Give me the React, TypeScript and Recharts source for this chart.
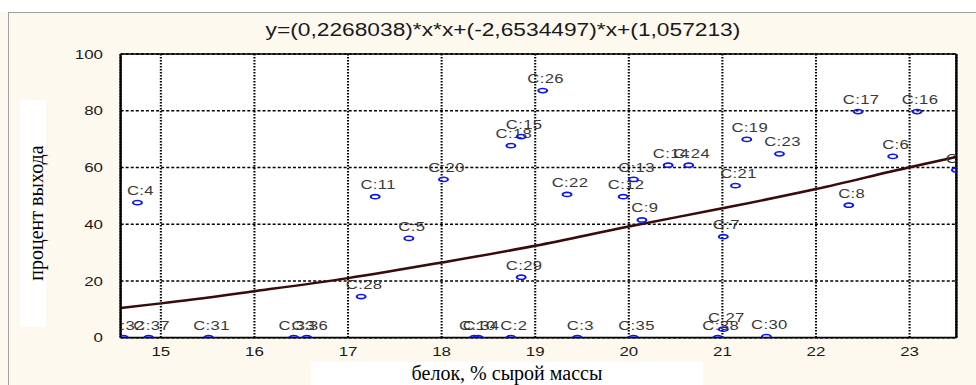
import {
  CartesianGrid,
  ComposedChart,
  Line,
  Scatter,
  XAxis,
  YAxis,
} from "recharts";

// case labels and their coordinates (protein %, yield %)
const pointNames = [
  "C:4", "C:26", "C:15", "C:18", "C:20", "C:11", "C:5", "C:22", "C:12", "C:13",
  "C:9", "C:14", "C:24", "C:17", "C:16", "C:19", "C:23", "C:6", "C:21", "C:8",
  "C:7", "C:1", "C:27", "C:38", "C:30", "C:28", "C:29", "C:32", "C:37", "C:31",
  "C:33", "C:36", "C:10", "C:34", "C:2", "C:3", "C:35",
];
const pointX = [
  14.75, 19.08, 18.85, 18.74, 18.02, 17.29, 17.65, 19.34, 19.94, 20.05,
  20.14, 20.42, 20.64, 22.45, 23.08, 21.26, 21.61, 22.82, 21.14, 22.35,
  21.01, 23.5, 21.01, 20.95, 21.47, 17.14, 18.85, 14.6, 14.87, 15.51,
  16.42, 16.56, 18.35, 18.39, 18.74, 19.45, 20.05,
];
const pointY = [
  47.6, 87.1, 70.9, 67.7, 55.8, 49.7, 35.0, 50.5, 49.7, 55.8,
  41.5, 60.8, 60.8, 79.7, 79.7, 69.9, 64.8, 63.9, 53.6, 46.7,
  35.6, 59.1, 3.0, 0, 0.4, 14.5, 21.3, 0, 0, 0,
  0, 0, 0, 0, 0, 0, 0,
];

// fitted curve
const fitX = [14.57, 15, 16, 17, 18, 19, 20, 21, 22, 23, 23.5];
const fitY = [10.5, 12.1, 16.4, 21.0, 26.5, 32.4, 39.2, 45.6, 52.4, 60.1, 63.7];

const xTicks = [15, 16, 17, 18, 19, 20, 21, 22, 23];
const yTicks = [0, 20, 40, 60, 80, 100];
const xMinor = [
  14.75, 15, 15.25, 15.5, 15.75, 16, 16.25, 16.5, 16.75, 17, 17.25, 17.5, 17.75,
  18, 18.25, 18.5, 18.75, 19, 19.25, 19.5, 19.75, 20, 20.25, 20.5, 20.75, 21,
  21.25, 21.5, 21.75, 22, 22.25, 22.5, 22.75, 23, 23.25,
];
const yMinor = [
  4, 8, 12, 16, 20, 24, 28, 32, 36, 40, 44, 48, 52, 56, 60, 64, 68, 72, 76, 80,
  84, 88, 92, 96,
];

const X_DOMAIN: [number, number] = [14.57, 23.5];
const Y_DOMAIN: [number, number] = [0, 100];

const points = pointNames.map((name, i) => ({ name, x: pointX[i], y: pointY[i] }));
const fit = fitX.map((x, i) => ({ x, y: fitY[i] }));

const SANS = "'Liberation Sans', Arial, sans-serif";
const SERIF = "'Liberation Serif', 'Times New Roman', serif";
const STRETCH = 976 / 751;

const tickStyle = { fill: "#1a1a1a", fontSize: 13, fontFamily: SANS };

function Marker(props: any) {
  const { cx, cy, payload } = props;
  return (
    <g>
      <ellipse cx={cx} cy={cy} rx={3.4} ry={2.1} fill="none" stroke="#0b16f2" strokeWidth={1.6} />
      <text
        x={cx + 2.3}
        y={cy - 7.5}
        textAnchor="middle"
        fontSize={12.8}
        letterSpacing={0.3}
        fill="#383838"
        fontFamily={SANS}
      >
        {payload.name}
      </text>
    </g>
  );
}

export default function App() {
  return (
    <div
      style={{
        position: "absolute",
        left: 0,
        top: 0,
        width: 976,
        height: 385,
        background: "#fdf9ef",
        overflow: "hidden",
      }}
    >
      <div style={{ position: "absolute", left: 0, top: 0, width: 976, height: 12, background: "#fff" }} />
      <div style={{ position: "absolute", left: 8, top: 12, width: 968, height: 1, background: "#a0a0a0" }} />
      <div style={{ position: "absolute", left: 8, top: 12, width: 1, height: 373, background: "#a0a0a0" }} />

      <div
        style={{
          position: "absolute",
          left: 0,
          top: 0,
          width: 751,
          height: 385,
          transform: `scaleX(${STRETCH})`,
          transformOrigin: "0 0",
        }}
      >
        <div
          style={{
            position: "absolute",
            left: 137,
            top: 18,
            width: 500,
            height: 24,
            lineHeight: "24px",
            textAlign: "center",
            fontFamily: SANS,
            fontSize: 17.5,
            color: "#1a1a1a",
          }}
        >
          y=(0,2268038)*x*x+(-2,6534497)*x+(1,057213)
        </div>
        <ComposedChart width={751} height={385} margin={{ top: 54, right: 15.1, bottom: 0, left: 0 }}>
          <CartesianGrid
            vertical={false}
            stroke="#000"
            strokeWidth={1.4}
            strokeDasharray="2.3 1.6"
            fill="#ffffff"
          />
          <CartesianGrid horizontal={false} stroke="#000" strokeWidth={1.6} strokeDasharray="1.6 1.4" />
          <XAxis
            dataKey="x"
            type="number"
            domain={X_DOMAIN}
            allowDataOverflow
            ticks={xTicks}
            interval={0}
            height={47.3}
            tick={tickStyle}
            tickLine={false}
            tickSize={0}
            tickMargin={9}
            axisLine={{ stroke: "#000", strokeWidth: 1.8 }}
          />
          <XAxis
            xAxisId="top"
            orientation="top"
            mirror
            type="number"
            domain={X_DOMAIN}
            allowDataOverflow
            ticks={xMinor}
            interval={0}
            tick={false}
            tickSize={4}
            tickLine={{ stroke: "#000", strokeWidth: 1.2 }}
            axisLine={{ stroke: "#000", strokeWidth: 1.4 }}
          />
          <XAxis
            xAxisId="bottomMinor"
            orientation="bottom"
            mirror
            type="number"
            domain={X_DOMAIN}
            allowDataOverflow
            ticks={xMinor}
            interval={0}
            tick={false}
            tickSize={3}
            tickLine={{ stroke: "#000", strokeWidth: 1.2 }}
            axisLine={false}
          />
          <YAxis
            dataKey="y"
            type="number"
            domain={Y_DOMAIN}
            allowDataOverflow
            ticks={yTicks}
            interval={0}
            width={92.8}
            tick={tickStyle}
            tickLine={false}
            tickSize={0}
            tickMargin={13.6}
            axisLine={{ stroke: "#000", strokeWidth: 1.8 }}
          />
          <YAxis
            yAxisId="leftMinor"
            orientation="left"
            mirror
            type="number"
            domain={Y_DOMAIN}
            ticks={yMinor}
            interval={0}
            tick={false}
            tickSize={3}
            tickLine={{ stroke: "#000", strokeWidth: 1.2 }}
            axisLine={false}
          />
          <YAxis
            yAxisId="right"
            orientation="right"
            mirror
            type="number"
            domain={Y_DOMAIN}
            ticks={yMinor}
            interval={0}
            tick={false}
            tickSize={3}
            tickLine={{ stroke: "#000", strokeWidth: 1.2 }}
            axisLine={{ stroke: "#000", strokeWidth: 1.8 }}
          />
          <Line
            data={fit}
            dataKey="y"
            type="monotone"
            stroke="#3a0b0b"
            strokeWidth={2.5}
            dot={false}
            activeDot={false}
            isAnimationActive={false}
          />
          <Scatter data={points} dataKey="y" shape={Marker} isAnimationActive={false} />
        </ComposedChart>
      </div>

      {/* axis titles sit on white patches, not stretched */}
      <div style={{ position: "absolute", left: 20, top: 100, width: 26, height: 227, background: "#fff" }} />
      <div
        style={{
          position: "absolute",
          left: 36 - 110,
          top: 213 - 11,
          width: 220,
          height: 22,
          lineHeight: "22px",
          textAlign: "center",
          fontFamily: SERIF,
          fontSize: 20,
          color: "#000",
          transform: "rotate(-90deg)",
        }}
      >
        процент выхода
      </div>
      <div style={{ position: "absolute", left: 311, top: 362, width: 392, height: 23, background: "#fff" }} />
      <div
        style={{
          position: "absolute",
          left: 311,
          top: 363,
          width: 392,
          height: 20,
          lineHeight: "20px",
          textAlign: "center",
          fontFamily: SERIF,
          fontSize: 20,
          color: "#000",
        }}
      >
        белок, % сырой массы
      </div>
    </div>
  );
}
